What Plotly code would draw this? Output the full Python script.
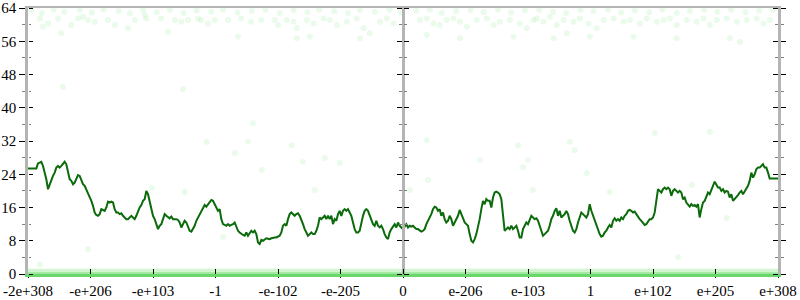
import numpy as np
import plotly.graph_objects as go

# ---------------- data ----------------
X_TICK_LABELS = ["-2e+308", "-e+206", "-e+103", "-1", "-e-102", "-e-205", "0",
                 "e-206", "e-103", "1", "e+102", "e+205", "e+308"]
Y_TICKS = [0, 8, 16, 24, 32, 40, 48, 56, 64]
Y_MINOR = [4, 12, 20, 28, 36, 44, 52, 60]

LINE_SEG1 = [25.4, 25.4, 25.4, 25.4, 25.4, 25.4, 26.6, 26.8, 27.0, 26.0,
             24.4, 22.8, 20.4, 21.6, 22.8, 23.6, 24.4, 25.6, 26.0, 25.6,
             26.0, 26.4, 27.0, 26.4, 24.8, 22.8, 22.4, 21.6, 22.0, 22.8,
             23.8, 23.6, 22.4, 21.6, 21.2, 20.4, 19.6, 18.8, 17.6, 16.4,
             14.8, 14.2, 14.0, 14.4, 15.6, 15.4, 15.2, 16.0, 17.4, 17.2,
             17.4, 17.2, 15.6, 14.8, 14.8, 14.4, 14.6, 14.0, 13.6, 13.2,
             13.2, 13.6, 14.0, 13.6, 13.2, 14.0, 15.2, 16.0, 16.6, 17.6,
             18.0, 20.0, 19.2, 17.2, 16.0, 14.0, 13.2, 11.8, 10.8, 11.6,
             12.0, 13.2, 14.4, 14.0, 13.6, 13.4, 13.8, 13.2, 13.2, 13.2,
             13.0, 12.4, 11.2, 12.0, 12.8, 12.4, 11.6, 10.4, 10.2, 10.8,
             11.6, 12.8, 13.6, 14.4, 15.2, 16.0, 16.6, 16.2, 16.8, 17.2,
             17.8, 17.6, 16.6, 16.0, 15.2, 15.6, 13.2, 12.0, 11.8, 11.6,
             12.0, 11.6, 11.8, 12.0, 12.4, 11.6, 10.4, 10.0, 9.6, 9.4,
             9.2, 10.0, 9.2, 9.8, 10.4, 10.0, 10.4, 9.6, 7.6, 7.2]

LINE_SEG2 = [8.2, 8.0, 8.2, 8.6, 8.5, 8.4, 8.6, 8.8, 8.8, 8.8,
             9.0, 9.2, 10.0, 11.6, 12.0, 11.6, 13.2, 14.4, 14.8, 14.4,
             14.0, 14.4, 14.6, 14.0, 13.2, 12.0, 10.8, 10.0, 9.2, 9.6,
             10.0, 9.6, 9.6, 10.4, 11.6, 13.6, 13.2, 13.6, 14.0, 13.2,
             14.0, 13.2, 14.0, 12.0, 13.2, 12.8, 14.4, 15.2, 14.0, 15.2,
             15.6, 15.2, 15.6, 14.8, 14.0, 12.4, 10.8, 10.0, 10.0, 10.4,
             12.4, 14.0, 15.2, 15.6, 15.2, 14.0, 13.2, 12.0, 11.6, 12.8,
             11.6, 11.2, 11.6, 10.8, 9.6, 8.8, 8.4, 10.0, 10.8, 11.6,
             12.0, 11.2, 12.4, 11.6, 11.2, 10.8, 11.4, 12.0, 11.2, 11.6,
             11.4, 11.6, 11.2, 10.8, 10.8, 10.4, 10.2, 10.4, 10.8, 12.0,
             12.8, 13.6, 14.4, 15.6, 16.2, 16.0, 15.2, 15.6, 14.0, 14.8,
             13.2, 12.4, 12.8, 14.0, 13.2, 11.6, 12.4, 13.2, 14.0, 15.4,
             14.4, 13.2, 12.4, 12.0, 11.6, 9.6, 8.0, 7.6, 8.4, 9.6,
             11.2, 13.2, 15.6, 17.6, 16.8, 18.0, 17.6, 17.6, 16.0, 18.4,
             19.6, 19.8, 19.6, 19.2, 18.0, 14.8, 10.4, 10.8, 11.2, 10.8,
             11.6, 10.8, 11.2, 11.6, 10.4, 8.8]

LINE_SEG3 = [8.8, 10.8, 11.6, 12.4, 12.0, 13.2, 14.0, 13.6, 13.2, 13.4,
             12.8, 11.6, 10.4, 9.2, 9.6, 10.0, 10.4, 11.6, 13.2, 14.0,
             15.2, 15.8, 14.0, 15.2, 13.6, 14.0, 14.4, 15.2, 14.4, 12.8,
             11.6, 10.4, 10.0, 10.8, 12.4, 13.6, 14.8, 14.4, 14.0, 13.6,
             14.4, 16.8, 15.2, 14.0, 13.2, 12.0, 10.8, 9.6, 9.0, 9.2,
             10.0, 10.4, 11.2, 11.8, 11.2, 12.8, 13.4, 12.8, 13.2, 12.8,
             13.6, 13.2, 14.0, 14.4, 15.2, 15.4, 15.2, 14.8, 15.0, 14.4,
             13.6, 13.2, 12.8, 12.2, 11.8, 12.0, 12.6, 13.2, 13.2, 13.6,
             14.8, 17.6, 20.4, 20.0, 19.6, 20.4, 20.8, 20.4, 20.8, 20.4,
             18.8, 20.0, 20.4, 20.0, 19.6, 20.0, 19.6, 18.0, 18.4, 17.2,
             16.8, 16.2, 16.8, 16.4, 16.6, 16.2, 16.8, 13.6, 15.6, 17.2,
             17.6, 18.4, 19.6, 19.2, 20.4, 21.2, 22.2, 21.6, 20.8, 20.8,
             20.0, 20.4, 19.6, 20.0, 19.8, 18.4, 19.2, 17.6, 18.0, 18.4,
             19.0, 19.6, 20.0, 19.2, 20.0, 20.8, 21.2, 22.4, 24.4, 23.2,
             24.0, 25.2, 25.6, 25.6, 26.0, 26.4, 25.6, 25.6, 24.4, 23.0,
             23.0, 23.0, 23.0, 23.0, 23.0]

LINE_Y = LINE_SEG1 + LINE_SEG2 + LINE_SEG3

TOP_DOT_X = [0.19, 0.24, 0.32, 0.48, 0.53, 0.69, 0.80, 0.88, 0.96, 1.07,
             1.28, 1.39, 1.60, 1.71, 1.87, 1.89, 2.13, 2.24, 2.35, 2.45,
             2.56, 2.72, 2.77, 2.88, 2.99, 3.20, 3.36, 3.41, 3.57, 3.73,
             3.95, 4.00, 4.14, 4.25, 4.30, 4.46, 4.57, 4.73, 4.83, 4.94,
             5.10, 5.26, 5.37, 5.47, 5.63, 5.74, 5.85, 6.27, 6.38, 6.49,
             6.59, 6.70, 6.81, 6.91, 7.02, 7.18, 7.34, 7.45, 7.55, 7.71,
             7.87, 7.98, 8.09, 4.30, 4.51, 5.31, 6.38, 6.91, 7.77, 8.14,
             8.25, 8.35, 8.46, 8.57, 8.73, 8.83, 8.97, 9.10, 9.21, 9.37,
             9.53, 9.63, 9.79, 9.90, 10.06, 10.17, 10.27, 10.38, 10.54, 10.70,
             10.81, 10.91, 11.02, 11.18, 11.34, 11.50, 11.66, 11.77, 11.87, 8.41,
             8.62, 8.99, 9.69, 10.38, 11.23, 11.39]
TOP_DOT_Y = [61.5, 59.5, 60.3, 61.5, 57.9, 59.9, 61.5, 61.9, 61.1, 60.7,
             61.1, 59.9, 59.1, 61.1, 62.3, 61.5, 61.5, 58.3, 61.1, 60.7,
             61.1, 61.5, 61.1, 60.3, 61.1, 61.1, 57.1, 61.5, 60.7, 61.1,
             61.1, 59.9, 61.1, 60.7, 59.1, 61.1, 60.3, 61.5, 61.1, 59.9,
             60.7, 61.5, 59.1, 57.9, 60.7, 61.5, 60.3, 61.1, 61.5, 60.3,
             59.9, 61.1, 61.5, 60.7, 59.5, 61.1, 61.5, 59.9, 60.7, 61.1,
             60.3, 59.1, 61.1, 56.7, 57.1, 56.7, 57.5, 56.7, 57.1, 61.5,
             60.7, 61.9, 59.9, 61.1, 60.7, 61.5, 60.3, 59.1, 61.1, 61.5,
             60.7, 61.1, 60.3, 61.5, 60.7, 61.1, 61.5, 59.9, 61.1, 60.7,
             61.5, 59.9, 61.1, 61.5, 60.7, 61.1, 61.5, 60.3, 61.1, 56.7,
             57.9, 57.1, 57.1, 56.7, 56.7, 55.9]

EDGE_DOT_X = [0.05, 0.22, 0.41, 0.58, 0.83, 1.02, 1.21, 1.45, 1.63, 1.84,
              2.06, 2.27, 2.49, 2.70, 2.93, 3.12, 3.35, 3.58, 3.80, 4.03,
              4.25, 4.47, 4.66, 4.90, 5.12, 5.31, 5.55, 5.78, 5.97, 6.21,
              6.43, 6.62, 6.85, 7.08, 7.29, 7.52, 7.73, 7.95, 8.18, 8.40,
              8.61, 8.84, 9.05, 9.28, 9.49, 9.71, 9.94, 10.15, 10.38, 10.59,
              10.82, 11.03, 11.25, 11.48, 11.70, 11.92]
EDGE_DOT_Y = [63.4, 62.8, 63.6, 63.1, 63.5, 62.9, 63.6, 63.2, 62.7, 63.5,
              63.0, 63.6, 62.8, 63.4, 63.1, 63.6, 62.9, 63.3, 63.6, 62.8,
              63.5, 63.0, 63.6, 63.2, 62.8, 63.5, 63.1, 63.6, 62.9, 63.4,
              63.6, 62.8, 63.3, 63.5, 63.0, 63.6, 62.9, 63.4, 63.6, 63.1,
              62.8, 63.5, 63.2, 63.6, 62.9, 63.4, 63.0, 63.6, 62.8, 63.3,
              63.5, 63.1, 63.6, 62.9, 63.4, 63.6]

MID_DOT_X = [0.96, 0.19, 0.56, 2.48, 4.22, 4.40, 4.75, 4.99, 3.74, 4.59,
             6.38, 6.40, 6.11, 7.23, 7.84, 8.00, 7.92, 8.67, 8.75, 8.94,
             9.31, 10.03, 10.91, 10.62, 11.18, 8.08, 2.86, 3.31, 3.52, 3.60,
             2.51, 1.98, 3.12, 10.40]
MID_DOT_Y = [6.0, 2.2, 45.0, 44.5, 31.0, 27.0, 27.9, 26.7, 25.0, 20.2,
             32.2, 22.6, 20.2, 27.4, 31.0, 27.4, 25.7, 31.8, 29.8, 24.3,
             19.7, 33.9, 34.2, 21.4, 13.5, 20.2, 31.8, 29.1, 31.8, 36.3,
             19.7, 20.7, 8.9, 4.1]

BAND_X = [0, 12]
BAND_TOP = [1.25, 1.25]
BAND_LOW = [0.45, 0.45]

X_RANGE = [0, 12]
Y_RANGE = [0, 64]

# ---------------- figure ----------------
FONT = dict(family="Liberation Serif", size=15, color="black")
AXIS_GRAY = "#b4b4b4"
DOT_COLOR = "rgba(70,215,70,0.11)"

fig = go.Figure()

fig.add_trace(go.Scatter(x=BAND_X, y=BAND_TOP, mode="lines", line=dict(width=0),
                         fill="tozeroy", fillcolor="rgba(120,225,120,0.35)",
                         hoverinfo="skip", showlegend=False))
fig.add_trace(go.Scatter(x=BAND_X, y=BAND_LOW, mode="lines", line=dict(width=0),
                         fill="tozeroy", fillcolor="rgba(90,215,90,0.45)",
                         hoverinfo="skip", showlegend=False))
for xs, ys in ((TOP_DOT_X, TOP_DOT_Y), (EDGE_DOT_X, EDGE_DOT_Y), (MID_DOT_X, MID_DOT_Y)):
    fig.add_trace(go.Scatter(x=xs, y=ys, mode="markers",
                             marker=dict(size=6, color=DOT_COLOR, line=dict(width=0)),
                             hoverinfo="skip", showlegend=False))

line_x = np.linspace(X_RANGE[0], X_RANGE[1], len(LINE_Y))
fig.add_trace(go.Scatter(x=line_x, y=LINE_Y, mode="lines",
                         line=dict(color="#0b6b0b", width=2),
                         hoverinfo="skip", showlegend=False))

# empty traces to attach the extra axes
for xa, ya in (("x2", "y"), ("x3", "y"), ("x", "y2"), ("x", "y3"),
               ("x", "y4"), ("x", "y5"), ("x", "y6")):
    fig.add_trace(go.Scatter(x=[None], y=[None], xaxis=xa, yaxis=ya,
                             mode="markers", showlegend=False, hoverinfo="skip"))

common_y = dict(range=Y_RANGE, tickvals=Y_TICKS, showgrid=False, zeroline=False,
                tickcolor="black", tickwidth=1, fixedrange=True, automargin=False)
minor_y = lambda ln: dict(tickvals=Y_MINOR, ticks="outside", ticklen=ln,
                          tickcolor="#808080", tickwidth=1, showgrid=False)

fig.update_layout(
    width=800, height=300,
    margin=dict(l=28, r=22, t=8, b=26, pad=0, autoexpand=False),
    paper_bgcolor="white", plot_bgcolor="white",
    showlegend=False,
    xaxis=dict(range=X_RANGE, tickvals=list(range(13)), ticktext=X_TICK_LABELS,
               showline=True, linecolor="rgb(105,215,105)", linewidth=3,
               ticks="outside", ticklen=1, tickcolor="black", tickwidth=1,
               showgrid=False, zeroline=False, tickfont=FONT, fixedrange=True,
               automargin=False, ticklabeloverflow="allow"),
    xaxis2=dict(range=X_RANGE, overlaying="x", side="top", anchor="y",
                showline=True, linecolor=AXIS_GRAY, linewidth=2,
                showticklabels=False, ticks="", showgrid=False, zeroline=False,
                automargin=False),
    xaxis3=dict(range=X_RANGE, overlaying="x", side="bottom", anchor="y",
                tickvals=list(range(13)), ticks="inside", ticklen=5,
                tickcolor="black", tickwidth=1, showline=False,
                showticklabels=False, showgrid=False, zeroline=False,
                automargin=False),
    yaxis=dict(**common_y, side="left", showline=True, linecolor=AXIS_GRAY,
               linewidth=2.5, ticks="outside", ticklen=6, tickfont=FONT,
               ticklabeloverflow="allow", minor=minor_y(3)),
    yaxis2=dict(**common_y, overlaying="y", side="right", anchor="x",
                showline=True, linecolor=AXIS_GRAY, linewidth=2.5,
                ticks="outside", ticklen=5, showticklabels=False, minor=minor_y(3)),
    yaxis3=dict(**common_y, overlaying="y", side="left", anchor="free", position=1,
                showline=False, ticks="outside", ticklen=5,
                showticklabels=False, minor=minor_y(3)),
    yaxis4=dict(**common_y, overlaying="y", side="left", anchor="free", position=0.5,
                showline=True, linecolor=AXIS_GRAY, linewidth=2.5,
                ticks="outside", ticklen=5, showticklabels=False, minor=minor_y(3)),
    yaxis5=dict(**common_y, overlaying="y", side="right", anchor="free", position=0.5,
                showline=False, ticks="outside", ticklen=5,
                showticklabels=False, minor=minor_y(3)),
    yaxis6=dict(**common_y, overlaying="y", side="right", anchor="free", position=0,
                showline=False, ticks="outside", ticklen=4,
                showticklabels=False, minor=minor_y(2)),
)

fig.write_html("out.html")
